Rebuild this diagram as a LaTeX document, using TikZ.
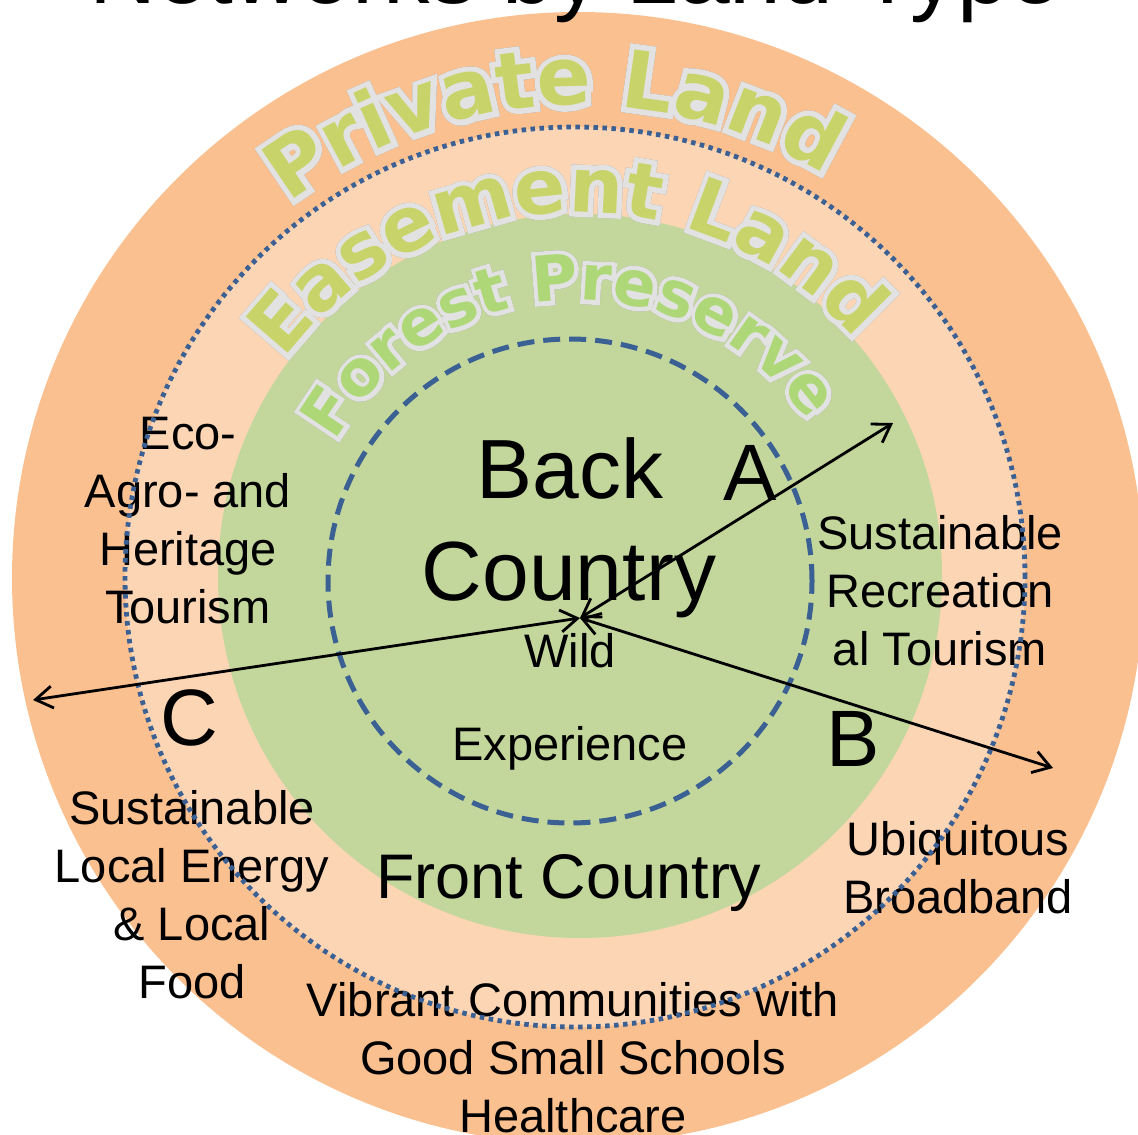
\documentclass[tikz,border=0pt]{standalone}
\usepackage{fontspec}
\setmainfont{Liberation Sans}
\newfontfamily\artfont{DejaVu Sans Bold}
\newfontfamily\artrimfont[FakeBold=14]{DejaVu Sans Bold}
\usetikzlibrary{arrows.meta,decorations.text}

\definecolor{privorange}{HTML}{FAC090}
\definecolor{easepeach}{HTML}{FCD5B5}
\definecolor{preservegreen}{HTML}{C3D69B}
\definecolor{ringblue}{HTML}{3A6094}
\definecolor{artshadow}{HTML}{9A9A9A}
\definecolor{artrim}{HTML}{E2E2E2}
\definecolor{artgreen}{HTML}{C8D46A}
\definecolor{artleaf}{HTML}{AED878}

\tikzset{
  label47/.style={font=\fontsize{47}{58}\selectfont, align=center, inner sep=0pt},
  zoneletter/.style={font=\fontsize{80}{80}\selectfont, inner sep=0pt, anchor=base},
  bigword/.style={inner sep=0pt, anchor=base},
  link/.style={{Straight Barb[length=17pt,width=22pt]}-{Straight Barb[length=17pt,width=22pt]}, line width=2.8pt},
  wordart/.style n args={3}{decorate, decoration={text along path, text align=center,
      text={|#1\fontsize{#2}{#2}\selectfont|#3}}},
}

\begin{document}
\begin{tikzpicture}[x=1pt,y=1pt]
    \useasboundingbox (0,0) rectangle (1138,-1135);
    \fill[white] (0,0) rectangle (1138,-1135);

    \fill[privorange] (578,-578) circle[radius=566];
    \fill[easepeach] (575,-577) circle[radius=450];
    \fill[preservegreen] (580,-576) circle[radius=362];

    \node[bigword, font=\fontsize{93}{93}\selectfont] (title) at (575,-3) {Networks by Land Type};

    \coordinate (mid) at (578,-578);
    \foreach \dx/\dy/\fnt/\col/\leaf in {3/-5/\artrimfont/artshadow/artshadow, 0/0/\artrimfont/artrim/artrim, 0/0/\artfont/artgreen/artleaf}{
      \path[wordart={\fnt\color{\col}}{80}{Private Land}, xshift=\dx, yshift=\dy]
        (mid) ++(173:473) arc[start angle=173, end angle=13, radius=473];
      \path[wordart={\fnt\color{\col}}{76}{Easement Land}, xshift=\dx, yshift=\dy]
        (mid) ++(172:366) arc[start angle=172, end angle=12, radius=366];
      \path[wordart={\fnt\color{\leaf}}{63}{Forest Preserve}, xshift=\dx, yshift=\dy]
        (mid) ++(172.5:278) arc[start angle=172.5, end angle=12.5, radius=278];
    }

    \node[bigword, font=\fontsize{84}{84}\selectfont] (back) at (570,-498) {Back};
    \node[bigword, font=\fontsize{84}{84}\selectfont] (country) at (569,-600) {Country};
    \node[bigword, font=\fontsize{63}{63}\selectfont] (front) at (569,-898) {Front Country};
    \node[label47, font=\fontsize{47}{93}\selectfont] (wild) at (570,-702) {Wild\\Experience};

    \node[zoneletter] (letA) at (750,-500) {A};
    \node[zoneletter] (letB) at (853,-766) {B};
    \node[zoneletter] (letC) at (189,-745) {C};

    \node[label47] (ecotour) at (188,-521) {Eco-\\Agro- and\\Heritage\\Tourism};
    \node[label47] (rectour) at (940,-591) {Sustainable\\Recreation\\al Tourism};
    \node[label47] (energy) at (192,-895) {Sustainable\\Local Energy\\\& Local\\Food};
    \node[label47] (broadband) at (958,-868) {Ubiquitous\\Broadband};
    \node[label47] (vibrant) at (573,-1058) {Vibrant Communities with\\Good Small Schools\\Healthcare};

    \draw[ringblue, line width=4.8pt, dash pattern=on 4.5pt off 4.5pt] (575,-577) circle[radius=450];
    \draw[ringblue, line width=5pt, dash pattern=on 17pt off 9pt] (570,-581) circle[radius=242];

    \coordinate (hub) at (580,-618);
    \coordinate (tipA) at (893,-423);
    \coordinate (tipB) at (1053,-768);
    \coordinate (tipC) at (33,-700);
    \path [link] (hub) edge (tipA);
    \path [link] (hub) edge (tipB);
    \path [link] (hub) edge (tipC);
\end{tikzpicture}
\end{document}
